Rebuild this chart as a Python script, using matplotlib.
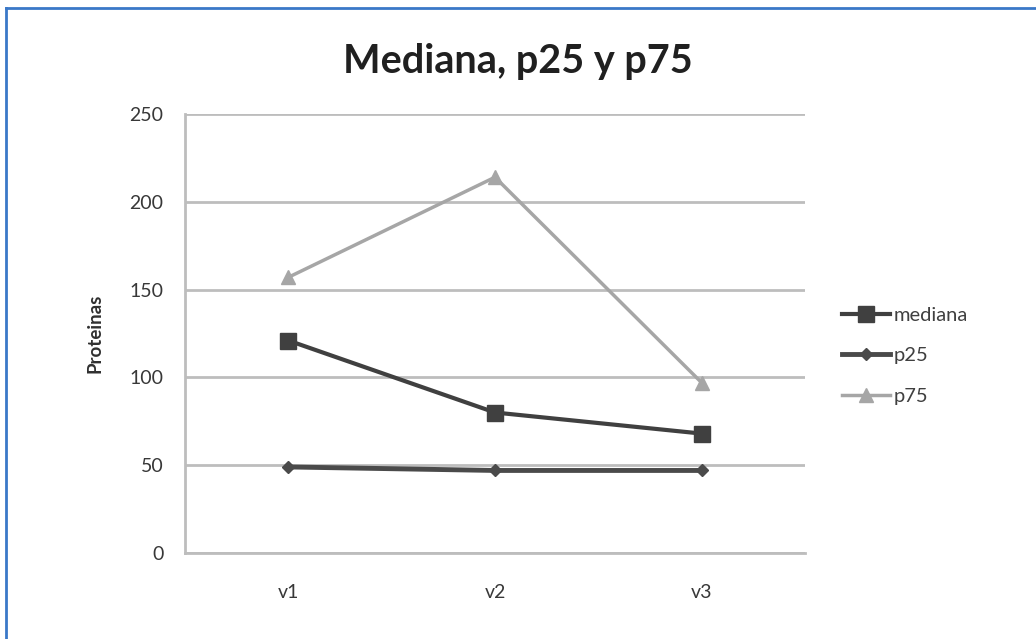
import matplotlib.pyplot as plt
from matplotlib.lines import Line2D

# datos
visitas = ['v1', 'v2', 'v3']
mediana = [121, 80, 68]
p25 = [49, 47, 47]
p75 = [157, 214, 97]
yticks = [0, 50, 100, 150, 200, 250]

plt.rcParams['font.family'] = ['Lato', 'DejaVu Sans']

fig = plt.figure(figsize=(10.36, 6.39), dpi=100)
ax = fig.add_axes([0.1786, 0.1346, 0.5984, 0.687])

x = range(len(visitas))
ax.plot(x, mediana, color='#404040', lw=3, marker='s', ms=11, label='mediana', zorder=4)
ax.plot(x, p25, color='#4a4a4a', lw=3.5, marker='D', ms=6, label='p25', zorder=3)
ax.plot(x, p75, color='#a6a6a6', lw=2.5, marker='^', ms=10, label='p75', zorder=2)

ax.set_xlim(-0.5, 2.5)
ax.set_ylim(0, 250)
ax.set_xticks(list(x))
ax.set_xticklabels(visitas)
ax.set_yticks(yticks)
ax.grid(axis='y', color='#bdbdbd', lw=2)
ax.set_axisbelow(True)
for s in ['top', 'right']:
    ax.spines[s].set_visible(False)
for s in ['left', 'bottom']:
    ax.spines[s].set_color('#bdbdbd')
    ax.spines[s].set_linewidth(2)
ax.tick_params(length=0, labelsize=14, labelcolor='#383838')
ax.tick_params(axis='y', pad=15.5)
ax.tick_params(axis='x', pad=22)
ax.set_ylabel('Proteinas', fontsize=13.5, fontweight='bold', color='#303030', labelpad=19)

fig.text(0.5, 0.903, 'Mediana, p25 y p75', ha='center', va='center',
         fontsize=28.5, fontweight='bold', color='#202020')

fig.legend(loc='center left', bbox_to_anchor=(0.795, 0.443), frameon=False,
           fontsize=14.5, handlelength=2.4, handletextpad=0.2, labelspacing=1.18,
           labelcolor='#404040')

# marco azul
fig.add_artist(Line2D([0.006, 1], [0.988, 0.988], color='#3a78c8', lw=2, transform=fig.transFigure))
fig.add_artist(Line2D([0.006, 0.006], [0, 0.988], color='#3a78c8', lw=2, transform=fig.transFigure))

fig.savefig('out.png', dpi=100)
